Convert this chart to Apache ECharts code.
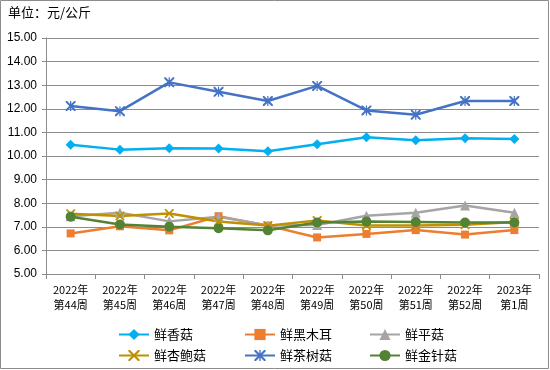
<!DOCTYPE html>
<html><head><meta charset="utf-8">
<script src="https://cdn.jsdelivr.net/npm/echarts@6/dist/echarts.min.js"></script>
<style>html,body{margin:0;padding:0;background:#fff}#c{width:550px;height:370px}</style>
</head><body><div id="c"></div>
<script>
const categories = ['2022年\n第44周','2022年\n第45周','2022年\n第46周','2022年\n第47周','2022年\n第48周','2022年\n第49周','2022年\n第50周','2022年\n第51周','2022年\n第52周','2023年\n第1周'];
const xiangGu   = [10.48,10.27,10.33,10.32,10.20,10.50,10.79,10.67,10.75,10.72];
const heiMuEr   = [6.72,7.02,6.85,7.45,7.05,6.55,6.70,6.86,6.67,6.86];
const pingGu    = [7.45,7.60,7.23,7.43,7.06,7.08,7.47,7.60,7.90,7.60];
const xingBaoGu = [7.55,7.46,7.56,7.22,7.05,7.27,7.06,7.06,7.09,7.20];
const chaShuGu  = [12.12,11.90,13.12,12.72,12.33,12.97,11.93,11.75,12.33,12.33];
const jinZhenGu = [7.43,7.10,7.00,6.94,6.85,7.18,7.22,7.20,7.18,7.18];
const yTicks = [5,15,1];

const xPath = 'path://M0,0 L1.4,0 L5,3.6 L8.6,0 L10,0 L10,1.4 L6.4,5 L10,8.6 L10,10 L8.6,10 L5,6.4 L1.4,10 L0,10 L0,8.6 L3.6,5 L0,1.4 Z';
const starPath = 'path://M0,0 L1.4,0 L5,3.6 L8.6,0 L10,0 L10,1.4 L6.4,5 L10,8.6 L10,10 L8.6,10 L5,6.4 L1.4,10 L0,10 L0,8.6 L3.6,5 L0,1.4 Z M4.4,0 L5.6,0 L5.6,10 L4.4,10 Z';

function s(name, data, color, symbol, size){
  return {name, type:'line', data, symbol, symbolSize:size, showSymbol:true,
    lineStyle:{width:2.5,color}, itemStyle:{color}, animation:false};
}
const series = [
  s('鲜香菇', xiangGu, '#00B0F0', 'diamond', 10),
  s('鲜黑木耳', heiMuEr, '#ED7D31', 'rect', 8),
  s('鲜平菇', pingGu, '#A5A5A5', 'triangle', 10),
  s('鲜杏鲍菇', xingBaoGu, '#BF9000', xPath, 9),
  s('鲜茶树菇', chaShuGu, '#4472C4', starPath, 10),
  s('鲜金针菇', jinZhenGu, '#548235', 'circle', 10)
];
const legendBase = {orient:'vertical', top:323, itemWidth:30, itemHeight:14, itemGap:8,
  textStyle:{fontSize:13, color:'#000', fontFamily:'Noto Sans CJK SC'}, selectedMode:false};
const chart = echarts.init(document.getElementById('c'));
chart.setOption({
  animation:false,
  graphic:[{type:'rect', shape:{x:0.5,y:0.5,width:548,height:368}, style:{fill:'none', stroke:'#8c8c8c', lineWidth:1}},
           {type:'text', left:8, top:6, style:{text:'单位：元/公斤', fontSize:13, fill:'#000', fontFamily:'Noto Sans CJK SC'}}],
  grid:{left:46, right:11, top:38, bottom:96},
  legend:[
    Object.assign({}, legendBase, {left:113, data:['鲜香菇','鲜杏鲍菇']}),
    Object.assign({}, legendBase, {left:239, data:['鲜黑木耳','鲜茶树菇']}),
    Object.assign({}, legendBase, {left:364, data:['鲜平菇','鲜金针菇']})
  ],
  xAxis:{type:'category', data:categories, boundaryGap:true,
    axisLine:{lineStyle:{color:'#8c8c8c', width:1}},
    axisTick:{show:true, length:5, alignWithLabel:false, lineStyle:{color:'#8c8c8c'}},
    axisLabel:{interval:0, fontSize:11, color:'#000', lineHeight:15, margin:8, fontFamily:'Noto Sans CJK SC'}},
  yAxis:{type:'value', min:yTicks[0], max:yTicks[1], interval:yTicks[2],
    axisLine:{show:true, lineStyle:{color:'#8c8c8c'}},
    axisTick:{show:true, length:4, lineStyle:{color:'#8c8c8c'}},
    splitLine:{lineStyle:{color:'#8c8c8c', width:1}},
    axisLabel:{formatter:v=>v.toFixed(2), fontSize:12, color:'#000', margin:9, fontFamily:'Liberation Sans'}},
  series
});
</script></body></html>
